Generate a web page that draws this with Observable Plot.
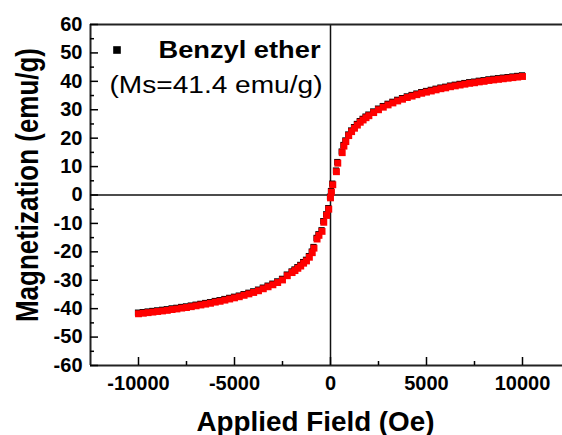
<!DOCTYPE html>
<html><head><meta charset="utf-8">
<script src="https://cdn.jsdelivr.net/npm/d3@7"></script>
<script src="https://cdn.jsdelivr.net/npm/@observablehq/plot@0.6"></script>
<style>body{margin:0;background:#fff} svg{font-family:"Liberation Sans",Arial,sans-serif}</style>
</head><body><div id="chart"></div>
<script>
const field = [-10000,-9750,-9500,-9250,-9000,-8750,-8500,-8250,-8000,-7750,-7500,-7250,-7000,-6750,-6500,-6250,-6000,-5750,-5500,-5250,-5000,-4750,-4500,-4250,-4000,-3750,-3500,-3250,-3000,-2750,-2500,-2250,-2000,
  -1850,-1700,-1550,-1400,-1250,-1100,-950,-860,-700,-600,-440,-350,-200,-90,
  0,50,120,310,380,610,700,800,950,1100,1250,1400,1550,1700,1850,2000,
  2250,2500,2750,3000,3250,3500,3750,4000,4250,4500,4750,5000,5250,5500,5750,6000,6250,6500,6750,7000,7250,7500,7750,8000,8250,8500,8750,9000,9250,9500,9750,10000];
const magRed = [-41.8,-41.6,-41.4,-41.2,-41.0,-40.8,-40.6,-40.3,-40.1,-39.8,-39.6,-39.3,-39.0,-38.7,-38.4,-38.1,-37.7,-37.4,-37.0,-36.6,-36.2,-35.8,-35.3,-34.8,-34.3,-33.7,-33.0,-32.3,-31.6,-30.8,-29.9,-28.4,-27.3,
  -26.6,-25.8,-25.0,-24.0,-23.2,-21.9,-20.3,-18.7,-15.5,-14.2,-12.8,-9.6,-7.2,-5.0,
  -1.0,1.0,3.6,8.2,11.2,14.9,17.2,18.8,20.9,22.3,23.5,24.6,25.6,26.4,27.2,27.9,
  29.0,30.0,30.9,31.7,32.4,33.1,33.7,34.3,34.8,35.3,35.8,36.2,36.6,37.0,37.4,37.7,38.1,38.4,38.7,39.0,39.3,39.5,39.8,40.0,40.3,40.5,40.7,40.9,41.1,41.3,41.5,41.7];
const magBlack = [-41.4,-41.2,-41.0,-40.8,-40.6,-40.4,-40.2,-39.9,-39.7,-39.4,-39.2,-38.9,-38.6,-38.3,-38.0,-37.7,-37.3,-37.0,-36.6,-36.2,-35.8,-35.4,-34.9,-34.4,-33.9,-33.3,-32.6,-31.9,-31.2,-30.4,-29.5,-28.0,-26.9,
  -26.2,-25.4,-24.6,-23.6,-22.8,-21.5,-19.9,-18.3,-15.1,-13.8,-12.4,-9.2,-6.8,-4.6,
  -0.6,1.4,4.0,8.6,11.6,15.3,17.6,19.2,21.3,22.7,23.9,25.0,26.0,26.8,27.6,28.3,
  29.4,30.4,31.3,32.1,32.8,33.5,34.1,34.7,35.2,35.7,36.2,36.6,37.0,37.4,37.8,38.1,38.5,38.8,39.1,39.4,39.7,39.9,40.2,40.4,40.7,40.9,41.1,41.3,41.5,41.7,41.9,42.1];
const xDomain = [-12500, 12500];
const yDomain = [-60, 60];
const xMajor = [-10000, -5000, 0, 5000, 10000];
const xMinor = [-7500, -2500, 2500, 7500];
const yMajor = [-60, -50, -40, -30, -20, -10, 0, 10, 20, 30, 40, 50, 60];
const yMinor = [-55, -45, -35, -25, -15, -5, 5, 15, 25, 35, 45, 55];
const seriesName = "Benzyl ether";
const msNote = "(Ms=41.4 emu/g)";
const xTitle = "Applied Field (Oe)";
const yTitle = "Magnetization (emu/g)";

const data = field.map((h, i) => ({h, red: magRed[i], black: magBlack[i]}));
const fmt = d => String(d);

const plot = Plot.plot({
  width: 562, height: 435,
  marginLeft: 90, marginRight: -8, marginTop: 24, marginBottom: 70,
  x: {domain: xDomain},
  y: {domain: yDomain},
  style: {fontFamily: '"Liberation Sans", Arial, sans-serif', color: "#000", background: "#fff"},
  marks: [
    Plot.ruleX([0], {stroke: "#111", strokeWidth: 1.5}),
    Plot.ruleY([0], {stroke: "#111", strokeWidth: 1.5}),
    Plot.dot(data, {x: "h", y: "black", symbol: "square", r: 3.5, fill: "#000", dx: -0.5}),
    Plot.dot(data, {x: "h", y: "red", symbol: "square", r: 3.9, fill: "#ff0000"}),
    Plot.ruleX([xDomain[0]], {stroke: "#222", strokeWidth: 2}),
    Plot.ruleY([yDomain[0], yDomain[1]], {stroke: "#222", strokeWidth: 2}),
    Plot.axisX({ticks: xMajor, tickSize: -8, tickFormat: () => "", strokeWidth: 1.5, label: null}),
    Plot.axisX({ticks: xMinor, tickSize: -4, tickFormat: () => "", strokeWidth: 1.5, label: null}),
    Plot.axisX({ticks: xMajor, tickSize: 0, tickPadding: 10, tickFormat: fmt, fontSize: 20, fontWeight: "bold", label: null}),
    Plot.axisY({ticks: yMajor, tickSize: -8, tickFormat: () => "", strokeWidth: 1.5, label: null}),
    Plot.axisY({ticks: yMinor, tickSize: -4, tickFormat: () => "", strokeWidth: 1.5, label: null}),
    Plot.axisY({ticks: yMajor, tickSize: 0, tickPadding: 8, tickFormat: fmt, fontSize: 20, fontWeight: "bold", label: null}),
    Plot.dot([seriesName], {frameAnchor: "top-left", dx: 26.5, dy: 25.5, symbol: "square", r: 4.3, fill: "#000"}),
    Plot.text([seriesName], {text: d => d, frameAnchor: "top-left", dx: 68, dy: 33, textAnchor: "start", lineAnchor: "bottom", fontSize: 23.5, fontWeight: "bold"}),
    Plot.text([msNote], {text: d => d, frameAnchor: "top-left", dx: 19, dy: 68, textAnchor: "start", lineAnchor: "bottom", fontSize: 23.5}),
    Plot.text([xTitle], {text: d => d, frameAnchor: "bottom", dx: -15, dy: 65, textAnchor: "middle", lineAnchor: "bottom", fontSize: 28, fontWeight: "bold"}),
    Plot.text([yTitle], {text: d => d, frameAnchor: "left", rotate: -90, dx: -62, dy: -10, textAnchor: "middle", lineAnchor: "middle", fontSize: 31, fontWeight: "bold"})
  ]
});
const lengths = {[seriesName]: 162, [msNote]: 213, [xTitle]: 238, [yTitle]: 274};
plot.querySelectorAll("text").forEach(t => {
  const L = lengths[t.textContent];
  if (L) { t.setAttribute("textLength", L); t.setAttribute("lengthAdjust", "spacingAndGlyphs"); }
});
document.getElementById("chart").appendChild(plot);
</script></body></html>
